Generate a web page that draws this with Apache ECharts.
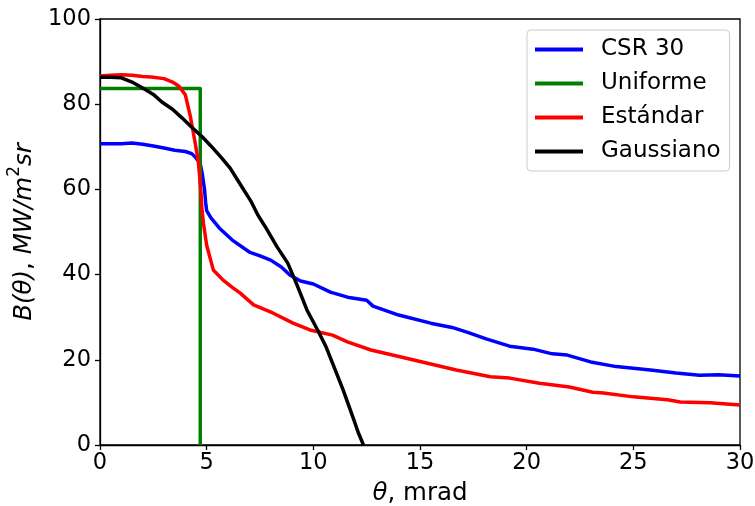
<!DOCTYPE html>
<html>
<head>
<meta charset="utf-8">
<script src="https://cdn.jsdelivr.net/npm/echarts@6/dist/echarts.min.js"></script>
<style>html,body{margin:0;padding:0;background:#fff}#c{width:755px;height:506px}</style>
</head>
<body>
<div id="c"></div>
<script>
const seriesNames = ['CSR 30', 'Uniforme', 'Estándar', 'Gaussiano'];
const xTicks = [0, 5, 10, 15, 20, 25, 30];
const yTicks = [0, 20, 40, 60, 80, 100];

const csrX = [0, 0.5, 1.0, 1.5, 2.0, 2.5, 3.0, 3.5, 4.0, 4.3, 4.5, 4.7, 4.8, 4.9, 4.95, 5.0, 5.2, 5.6, 6.2, 7.0, 7.5, 8.0, 8.5, 8.9, 9.4, 10.0, 10.8, 11.6, 12.5, 12.8, 14.0, 15.5, 16.5, 17.2, 18.1, 19.2, 20.3, 21.2, 21.9, 23.0, 24.2, 25.8, 27.0, 28.1, 29.0, 30];
const csrY = [70.7, 70.7, 70.7, 70.9, 70.6, 70.2, 69.7, 69.2, 68.9, 68.4, 67.4, 66, 63.4, 60, 57, 55, 53.3, 50.9, 48.1, 45.3, 44.4, 43.4, 41.8, 39.9, 38.5, 37.8, 35.9, 34.7, 34.0, 32.6, 30.5, 28.6, 27.6, 26.5, 24.9, 23.2, 22.5, 21.4, 21.1, 19.5, 18.4, 17.6, 16.9, 16.4, 16.5, 16.2];

const uniX = [0, 4.7, 4.7];
const uniY = [83.7, 83.7, 0];

const estX = [0, 0.5, 1.0, 1.5, 2.0, 2.4, 3.0, 3.4, 3.7, 4.0, 4.22, 4.35, 4.45, 4.61, 4.73, 4.77, 4.85, 5.0, 5.31, 5.77, 6.2, 6.56, 7.2, 8.1, 9.05, 9.4, 9.84, 10.9, 11.6, 12.7, 14.06, 15.5, 16.7, 18.3, 19.2, 20.6, 22.0, 23.1, 23.6, 25.0, 26.6, 27.2, 28.6, 30];
const estY = [86.6, 86.8, 86.9, 86.8, 86.5, 86.4, 86.0, 85.2, 84.2, 82.2, 77.5, 74, 71.2, 66.5, 59.5, 55.9, 52, 46.9, 41.1, 38.7, 37, 35.7, 32.9, 31.0, 28.6, 27.9, 27.0, 25.8, 24.2, 22.3, 20.7, 19.0, 17.6, 16.0, 15.7, 14.5, 13.6, 12.4, 12.2, 11.3, 10.6, 10.1, 9.9, 9.4];

const gauX = [0, 0.5, 1.0, 1.5, 2.1, 2.5, 2.9, 3.4, 3.84, 4.3, 4.8, 5.2, 5.7, 6.1, 6.5, 7.1, 7.4, 7.8, 8.3, 8.8, 9.2, 9.7, 10.2, 10.6, 10.9, 11.4, 11.9, 12.1, 12.35];
const gauY = [86.3, 86.3, 86.2, 85.2, 83.5, 82.3, 80.5, 78.8, 76.8, 74.6, 72.3, 70.2, 67.4, 65.0, 61.8, 57.0, 54.0, 50.8, 46.5, 42.7, 38.0, 31.7, 27.0, 23.0, 19.2, 12.9, 5.9, 3.0, 0];

const colors = ['#0000ff', '#008000', '#ff0000', '#000000'];
const xsList = [csrX, uniX, estX, gauX];
const ysList = [csrY, uniY, estY, gauY];

const FONT = 'DejaVu Sans';
const chart = echarts.init(document.getElementById('c'), null, {renderer: 'canvas'});

const series = seriesNames.map((name, i) => ({
  name: name,
  type: 'line',
  data: xsList[i].map((x, k) => [x, ysList[i][k]]),
  showSymbol: false,
  symbol: 'none',
  lineStyle: {color: colors[i], width: 3.5, join: 'round'},
  itemStyle: {color: colors[i]},
  animation: false,
  z: 2 + i
}));

chart.setOption({
  animation: false,
  backgroundColor: '#fff',
  grid: {left: 100, right: 15, top: 19, bottom: 61, show: true, borderColor: '#000', borderWidth: 1.3, backgroundColor: 'transparent', containLabel: false, outerBoundsMode: 'none'},
  legend: {
    orient: 'vertical',
    left: 527,
    top: 30,
    data: seriesNames.map(n => ({name: n, icon: 'rect'})),
    itemWidth: 48,
    itemHeight: 4,
    itemGap: 11,
    padding: [8, 9, 8, 8],
    borderColor: '#cccccc',
    borderWidth: 1,
    borderRadius: 4,
    backgroundColor: 'rgba(255,255,255,0.8)',
    textStyle: {fontFamily: FONT, fontSize: 23, color: '#000', lineHeight: 23, padding: [0, 0, 0, 13]},
    selectedMode: false
  },
  xAxis: {
    type: 'value',
    min: xTicks[0],
    max: xTicks[xTicks.length - 1],
    interval: xTicks[1] - xTicks[0],
    name: '{i|θ}{n|, mrad}',
    nameLocation: 'middle',
    nameGap: 36,
    nameTextStyle: {
      rich: {
        i: {fontFamily: FONT, fontSize: 24.5, fontStyle: 'italic', color: '#000'},
        n: {fontFamily: FONT, fontSize: 24.5, color: '#000'}
      }
    },
    axisLine: {show: true, onZero: false, lineStyle: {color: '#000', width: 1.3}},
    axisTick: {show: true, inside: false, length: 5, lineStyle: {color: '#000', width: 1.3}},
    axisLabel: {fontFamily: FONT, fontSize: 22.5, color: '#000', margin: 7},
    splitLine: {show: false}
  },
  yAxis: {
    type: 'value',
    min: yTicks[0],
    max: yTicks[yTicks.length - 1],
    interval: yTicks[1] - yTicks[0],
    name: '{i|B(θ)}{n|, }{i|MW/m}{s|2}{i|sr}',
    nameLocation: 'middle',
    nameGap: 52,
    nameTextStyle: {
      rich: {
        i: {fontFamily: FONT, fontSize: 24.5, fontStyle: 'italic', color: '#000'},
        n: {fontFamily: FONT, fontSize: 24.5, color: '#000'},
        s: {fontFamily: FONT, fontSize: 17, color: '#000', padding: [0, 0, 20, 0]}
      }
    },
    axisLine: {show: true, onZero: false, lineStyle: {color: '#000', width: 1.3}},
    axisTick: {show: true, inside: false, length: 5, lineStyle: {color: '#000', width: 1.3}},
    axisLabel: {fontFamily: FONT, fontSize: 22.5, color: '#000', margin: 9},
    splitLine: {show: false}
  },
  series: series
});
</script>
</body>
</html>
